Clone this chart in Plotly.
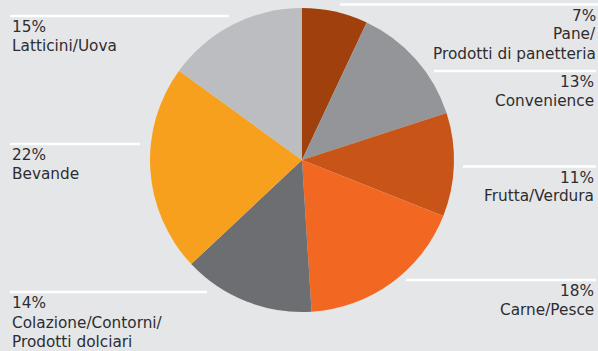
import plotly.graph_objects as go

W, H = 598, 351

categories = ["Pane/<br>Prodotti di panetteria", "Convenience", "Frutta/Verdura", "Carne/Pesce",
              "Colazione/Contorni/<br>Prodotti dolciari", "Bevande", "Latticini/Uova"]
values = [7, 13, 11, 18, 14, 22, 15]
colors = ["#a0410d", "#939598", "#c85418", "#f26822", "#6d6e71", "#f7a01e", "#bcbdc0"]

# label layout: (text lines, side, line y, line x0, line x1, text line centres)
label_lines = [
    (["7%", "Pane/", "Prodotti di panetteria"], "right", 4.5, 340, 598, [16, 34.5, 54]),
    (["13%", "Convenience"], "right", 71, 434, 596, [82, 101]),
    (["11%", "Frutta/Verdura"], "right", 166.5, 463, 596, [177.5, 196]),
    (["18%", "Carne/Pesce"], "right", 280, 406, 596, [291, 309.5]),
    (["14%", "Colazione/Contorni/", "Prodotti dolciari"], "left", 292, 10, 207, [303, 323, 342]),
    (["22%", "Bevande"], "left", 144, 10, 140, [155, 174.5]),
    (["15%", "Latticini/Uova"], "left", 16, 10, 229, [26.5, 46]),
]

cx, cy, r = 302, 160, 152
FONT = dict(family="DejaVu Sans", size=15.3, color="#2d2d30")

fig = go.Figure(go.Pie(
    labels=categories,
    values=values,
    sort=False,
    direction="clockwise",
    rotation=0,
    marker=dict(colors=colors, line=dict(width=0)),
    textinfo="none",
    hoverinfo="label+percent",
    domain=dict(x=[(cx - r) / W, (cx + r) / W], y=[1 - (cy + r) / H, 1 - (cy - r) / H]),
    showlegend=False,
))

def px(x):
    return x / W

def py(y):
    return 1 - y / H

shapes = []
annotations = []
for lines, side, ly, x0, x1, ys in label_lines:
    shapes.append(dict(type="line", xref="paper", yref="paper",
                       x0=px(x0), x1=px(x1), y0=py(ly), y1=py(ly),
                       line=dict(color="#ffffff", width=2.5)))
    for t, yy in zip(lines, ys):
        if side == "right":
            annotations.append(dict(text=t, xref="paper", yref="paper", x=px(x1), y=py(yy),
                                    xanchor="right", yanchor="middle", showarrow=False,
                                    font=FONT))
        else:
            annotations.append(dict(text=t, xref="paper", yref="paper", x=px(x0), y=py(yy),
                                    xanchor="left", yanchor="middle", showarrow=False,
                                    font=FONT))

fig.update_layout(
    width=W, height=H,
    margin=dict(l=0, r=0, t=0, b=0),
    paper_bgcolor="#e5e6e8",
    plot_bgcolor="#e5e6e8",
    shapes=shapes,
    annotations=annotations,
)

fig.write_html("out.html")
